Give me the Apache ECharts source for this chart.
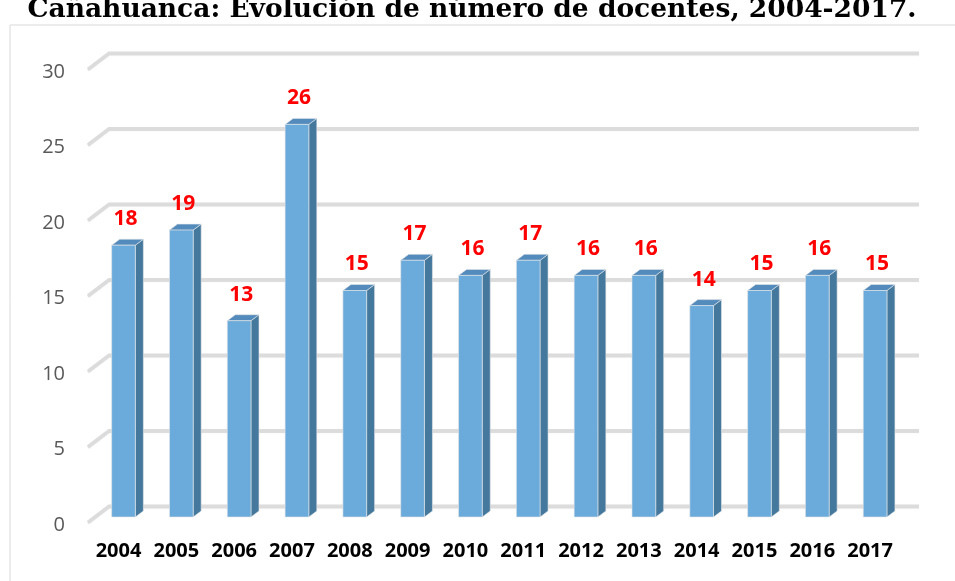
<!DOCTYPE html>
<html>
<head>
<meta charset="utf-8">
<title>Cañahuanca: docentes 2004-2017</title>
<script src="https://cdn.jsdelivr.net/npm/echarts@6/dist/echarts.min.js"></script>
<style>
  html, body { margin: 0; padding: 0; background: #ffffff; }
  #chart { width: 955px; height: 581px; }
</style>
</head>
<body>
<div id="chart"></div>
<script>
// Years and number of teachers per year
const years = ['2004', '2005', '2006', '2007', '2008', '2009', '2010',
               '2011', '2012', '2013', '2014', '2015', '2016', '2017'];
const docentes = [18, 19, 13, 26, 15, 17, 16, 17, 16, 16, 14, 15, 16, 15];
const yTicks = [0, 5, 10, 15, 20, 25, 30];
const titleText = 'Cañahuanca: Evolución de número de docentes, 2004-2017.';

// Depth of the pseudo-3D walls and bars (pixels)
const WALL_DX = 21, WALL_DY = 16;
const BAR_DX = 8, BAR_DY = 6;

const chart = echarts.init(document.getElementById('chart'), null, { renderer: 'canvas' });

function renderGridLine(params, api) {
  const cs = params.coordSys;
  const y = api.coord([0, api.value(0)])[1];
  const x0 = cs.x, x1 = cs.x + cs.width;
  return {
    type: 'polyline',
    shape: { points: [[x0, y], [x0 + WALL_DX, y - WALL_DY], [x1 + WALL_DX, y - WALL_DY]] },
    style: {
      fill: null, stroke: '#dcdcdc', lineWidth: 3,
      shadowColor: 'rgba(0,0,0,0.15)', shadowBlur: 1, shadowOffsetY: 1
    }
  };
}

function renderBar(params, api) {
  const i = api.value(0), v = api.value(1);
  const top = api.coord([i, v]);
  const base = api.coord([i, 0]);
  const w = api.size([1, 0])[0] * 0.41;
  const x0 = top[0] - w / 2, x1 = top[0] + w / 2;
  const yt = top[1], yb = base[1];
  return {
    type: 'group',
    children: [
      {
        type: 'polygon',
        shape: { points: [[x1, yt], [x1 + BAR_DX, yt - BAR_DY], [x1 + BAR_DX, yb - BAR_DY], [x1, yb]] },
        style: { fill: '#44789d', stroke: '#e6e6e6', lineWidth: 0.6 }
      },
      {
        type: 'polygon',
        shape: { points: [[x0, yt], [x0 + BAR_DX, yt - BAR_DY], [x1 + BAR_DX, yt - BAR_DY], [x1, yt]] },
        style: { fill: '#548bbd', stroke: '#e6e6e6', lineWidth: 0.6 }
      },
      {
        type: 'rect',
        shape: { x: x0, y: yt, width: w, height: yb - yt },
        style: { fill: '#6babdb', stroke: '#e6e6e6', lineWidth: 0.6 }
      },
      {
        type: 'text',
        style: {
          text: String(v), x: top[0] + 2, y: yt - 26,
          align: 'center', verticalAlign: 'middle',
          fill: '#ff0000', font: 'bold 21px "Open Sans"'
        }
      }
    ]
  };
}

const option = {
  backgroundColor: '#ffffff',
  animation: false,
  graphic: [
    {
      type: 'rect', z: -10,
      shape: { x: 10, y: 25, width: 980, height: 600 },
      style: { fill: '#ffffff', stroke: '#d9d9d9', lineWidth: 1 }
    },
    {
      type: 'text', z: 10,
      style: {
        text: titleText, x: 472, y: 24,
        align: 'center', verticalAlign: 'bottom',
        fill: '#000000', font: 'bold 26.5px "DejaVu Serif"'
      }
    }
  ],
  grid: [
    // front edge of the floor / left wall
    { left: 88, right: 57, top: 69, bottom: 59 },
    // plane the bars stand on
    { left: 94.6, right: 51, top: 64, bottom: 64 },
    // value labels of the left wall
    { left: 88, right: 57, top: 72, bottom: 56 }
  ],
  xAxis: [
    { gridIndex: 0, type: 'value', min: 0, max: 1, show: false },
    {
      gridIndex: 1, type: 'category', data: years,
      axisLine: { show: false }, axisTick: { show: false },
      axisLabel: {
        interval: 0, color: '#000000', fontFamily: 'Open Sans',
        fontWeight: 'bold', fontSize: 20, margin: 24, padding: [0, 10, 0, 0]
      }
    },
    { gridIndex: 2, type: 'value', min: 0, max: 1, show: false }
  ],
  yAxis: [
    { gridIndex: 0, type: 'value', min: 0, max: 30, interval: 5, show: false },
    { gridIndex: 1, type: 'value', min: 0, max: 30, interval: 5, show: false },
    {
      gridIndex: 2, type: 'value', min: 0, max: 30, interval: 5,
      axisLine: { show: false }, axisTick: { show: false }, splitLine: { show: false },
      axisLabel: { color: '#595959', fontFamily: 'Open Sans', fontSize: 20, margin: 23 }
    }
  ],
  series: [
    {
      type: 'custom', name: 'grid', xAxisIndex: 0, yAxisIndex: 0, z: 1,
      silent: true, renderItem: renderGridLine,
      data: yTicks.map(t => [t])
    },
    {
      type: 'custom', name: 'Docentes', xAxisIndex: 1, yAxisIndex: 1, z: 5,
      renderItem: renderBar,
      encode: { x: 0, y: 1 },
      data: docentes.map((v, i) => [i, v])
    }
  ]
};

chart.setOption(option);
</script>
</body>
</html>
